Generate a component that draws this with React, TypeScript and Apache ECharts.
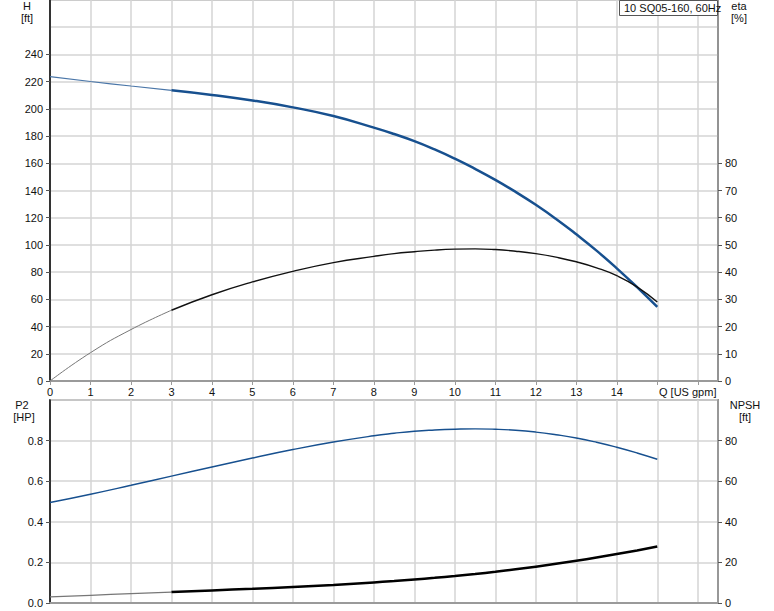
import React, { useEffect, useRef } from "react";
import * as echarts from "echarts";

// Flow rate Q [US gpm]
const flowQ = [0, 1, 2, 3, 4, 5, 6, 7, 8, 8.5, 9, 9.5, 10, 10.5, 11, 11.5, 12, 12.5, 13, 13.5, 14, 14.5, 15];
// Head H [ft]
const headH = [223.7, 220.1, 216.8, 213.6, 210.2, 206.2, 201.1, 194.7, 186.2, 181.5, 176.3, 170.2, 163.4, 155.9, 147.8, 139.0, 129.5, 119.1, 107.8, 95.8, 82.8, 69.0, 54.4];
// Efficiency eta [%]
const effEta = [0, 10.4, 18.9, 26.0, 31.7, 36.4, 40.3, 43.5, 45.8, 46.8, 47.5, 48.1, 48.45, 48.55, 48.3, 47.7, 46.8, 45.5, 43.8, 41.6, 38.7, 34.6, 29.0];
// NPSH [ft]
const npshFt = [49.5, 53.6, 58.0, 62.5, 67.0, 71.4, 75.6, 79.3, 82.4, 83.6, 84.6, 85.2, 85.6, 85.8, 85.6, 85.1, 84.2, 82.9, 81.3, 79.2, 76.7, 73.9, 70.8];
// Power P2 [HP]
const powerP2 = [0.030, 0.038, 0.046, 0.054, 0.062, 0.070, 0.079, 0.089, 0.101, 0.108, 0.116, 0.124, 0.133, 0.143, 0.154, 0.166, 0.179, 0.193, 0.208, 0.224, 0.241, 0.259, 0.278];

// Tick labels
const qTickLabels = [0, 1, 2, 3, 4, 5, 6, 7, 8, 9, 10, 11, 12, 13, 14];
const qTickMarks = [0, 1, 2, 3, 4, 5, 6, 7, 8, 9, 10, 11, 12, 13, 14, 15, 16];
const hTicks = [0, 20, 40, 60, 80, 100, 120, 140, 160, 180, 200, 220, 240];
const etaTicks = [0, 10, 20, 30, 40, 50, 60, 70, 80];
const p2Ticks = [0, 0.2, 0.4, 0.6, 0.8];
const npshTicks = [0, 20, 40, 60, 80];

const duty_start_index = 3; // curves are drawn bold from Q = 3 on

const pairs = (ys: number[], from: number, to: number) =>
  flowQ.slice(from, to + 1).map((q, i) => [q, ys[from + i]]);

const BLUE = "#17508f";
const GRID = "#d5d5d5";
const AXIS_GRAY = "#9a9a9a";
const FONT = "'Liberation Sans', Arial, sans-serif";
const SMOOTH = 0.5;

export default function App() {
  const ref = useRef<HTMLDivElement>(null);

  useEffect(() => {
    document.body.style.margin = "0";
    if (!ref.current) return;
    const chart = echarts.init(ref.current, null, { renderer: "svg" });
    const last = flowQ.length - 1;
    const labelStyle = { color: "#111", fontSize: 11, fontFamily: FONT };
    const txt = (x: number, y: number, text: string, align = "center") => ({
      type: "text", x, y,
      style: { text, font: `11px ${FONT}`, fill: "#111", textAlign: align, textVerticalAlign: "middle" },
    });

    const option: any = {
      animation: false,
      backgroundColor: "#fff",
      grid: [
        { left: 50, right: 56, top: 0, height: 381, show: true, borderColor: AXIS_GRAY, borderWidth: 1.5, backgroundColor: "transparent" },
        { left: 50, right: 56, top: 400, height: 203, show: true, borderColor: AXIS_GRAY, borderWidth: 2, backgroundColor: "transparent" },
      ],
      xAxis: [
        {
          gridIndex: 0, type: "value", min: 0, max: 16.5, interval: 1,
          axisLine: { show: true, onZero: false, lineStyle: { color: AXIS_GRAY, width: 2 } },
          axisTick: { show: true, length: 4, customValues: qTickMarks, lineStyle: { color: AXIS_GRAY } },
          axisLabel: { ...labelStyle, margin: 5, customValues: qTickLabels },
          splitLine: { show: true, lineStyle: { color: GRID, width: 1.5 } },
        },
        {
          gridIndex: 1, type: "value", min: 0, max: 16.5, interval: 1,
          axisLine: { show: true, onZero: false, lineStyle: { color: AXIS_GRAY, width: 2 } },
          axisTick: { show: false },
          axisLabel: { show: false },
          splitLine: { show: true, lineStyle: { color: GRID, width: 1.5 } },
        },
      ],
      yAxis: [
        {
          gridIndex: 0, type: "value", position: "left", min: 0, max: 280, interval: 20,
          axisLine: { show: true, onZero: false, lineStyle: { color: "#000", width: 1.5 } },
          axisTick: { show: true, length: 4, customValues: hTicks, lineStyle: { color: "#555" } },
          axisLabel: { ...labelStyle, margin: 7, customValues: hTicks },
          splitLine: { show: false },
        },
        {
          gridIndex: 0, type: "value", position: "right", min: 0, max: 140, interval: 10,
          axisLine: { show: true, onZero: false, lineStyle: { color: "#888", width: 1.5 } },
          axisTick: { show: true, length: 4, customValues: etaTicks, lineStyle: { color: "#555" } },
          axisLabel: { ...labelStyle, margin: 7, customValues: etaTicks },
          splitLine: { show: false },
        },
        {
          gridIndex: 0, type: "value", position: "left", min: 0, max: 280, interval: 20,
          axisLine: { show: false }, axisTick: { show: false }, axisLabel: { show: false },
          splitLine: { show: true, lineStyle: { color: GRID, width: 1.5 } },
        },
        {
          gridIndex: 1, type: "value", position: "left", min: 0, max: 1, interval: 0.2,
          axisLine: { show: true, onZero: false, lineStyle: { color: "#000", width: 1.5 } },
          axisTick: { show: true, length: 4, customValues: p2Ticks, lineStyle: { color: "#555" } },
          axisLabel: { ...labelStyle, margin: 7, customValues: p2Ticks, formatter: (v: number) => v.toFixed(1) },
          splitLine: { show: false },
        },
        {
          gridIndex: 1, type: "value", position: "right", min: 0, max: 100, interval: 20,
          axisLine: { show: true, onZero: false, lineStyle: { color: "#888", width: 1.5 } },
          axisTick: { show: true, length: 4, customValues: npshTicks, lineStyle: { color: "#555" } },
          axisLabel: { ...labelStyle, margin: 7, customValues: npshTicks },
          splitLine: { show: false },
        },
        {
          gridIndex: 1, type: "value", position: "left", min: 0, max: 1, interval: 0.2,
          axisLine: { show: false }, axisTick: { show: false }, axisLabel: { show: false },
          splitLine: { show: true, lineStyle: { color: GRID, width: 1.5 } },
        },
      ],
      series: [
        { name: "H thin", type: "line", xAxisIndex: 0, yAxisIndex: 0, smooth: SMOOTH, symbol: "none",
          data: pairs(headH, 0, duty_start_index), lineStyle: { color: "#4a76a8", width: 1.2 } },
        { name: "H", type: "line", xAxisIndex: 0, yAxisIndex: 0, smooth: SMOOTH, symbol: "none",
          data: pairs(headH, duty_start_index, last), lineStyle: { color: BLUE, width: 2.5 } },
        { name: "eta thin", type: "line", xAxisIndex: 0, yAxisIndex: 1, smooth: SMOOTH, symbol: "none",
          data: pairs(effEta, 0, duty_start_index), lineStyle: { color: "#777", width: 1 } },
        { name: "eta", type: "line", xAxisIndex: 0, yAxisIndex: 1, smooth: SMOOTH, symbol: "none",
          data: pairs(effEta, duty_start_index, last), lineStyle: { color: "#111", width: 1.4 } },
        { name: "NPSH", type: "line", xAxisIndex: 1, yAxisIndex: 4, smooth: SMOOTH, symbol: "none",
          data: pairs(npshFt, 0, last), lineStyle: { color: BLUE, width: 1.4 } },
        { name: "P2 thin", type: "line", xAxisIndex: 1, yAxisIndex: 3, smooth: SMOOTH, symbol: "none",
          data: pairs(powerP2, 0, duty_start_index), lineStyle: { color: "#777", width: 1.2 } },
        { name: "P2", type: "line", xAxisIndex: 1, yAxisIndex: 3, smooth: SMOOTH, symbol: "none",
          data: pairs(powerP2, duty_start_index, last), lineStyle: { color: "#000", width: 2.5 } },
      ],
      graphic: [
        txt(27, 6, "H"),
        txt(27, 18, "[ft]"),
        txt(739, 6, "eta"),
        txt(739, 18, "[%]"),
        txt(22, 405, "P2"),
        txt(24, 417, "[HP]"),
        txt(745, 405, "NPSH"),
        txt(745, 417, "[ft]"),
        txt(659, 392, "Q [US gpm]", "left"),
        { type: "rect", shape: { x: 619.5, y: 0.5, width: 98, height: 15 }, style: { fill: "#fff", stroke: "#555", lineWidth: 1 }, z: 10 },
        { ...txt(624, 8, "10 SQ05-160, 60Hz", "left"), z: 11 },
      ],
    };

    chart.setOption(option);
    return () => chart.dispose();
  }, []);

  return <div ref={ref} style={{ position: "absolute", left: 0, top: 0, width: 774, height: 611 }} />;
}
